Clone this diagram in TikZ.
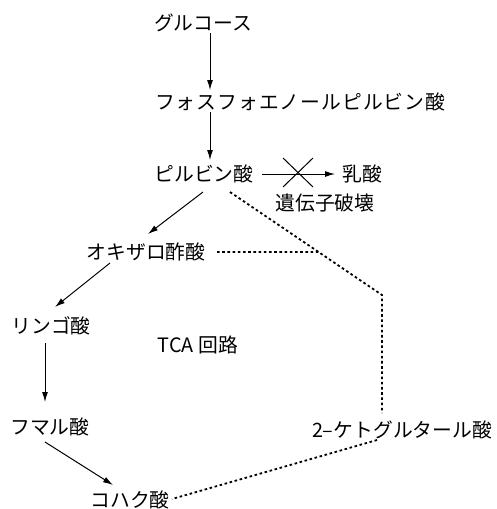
\documentclass[tikz,border=0pt]{standalone}
\usepackage{fontspec}
\setmainfont{Noto Sans CJK JP}
\usetikzlibrary{arrows.meta}
\begin{document}
\begin{tikzpicture}[x=1pt,y=-1pt,
  lbl/.style={inner sep=0pt,font=\fontsize{19.8}{22}\selectfont,anchor=center},
  arr/.style={line width=1pt,-{Latex[length=10pt,width=6pt]}},
  sol/.style={line width=1pt},
  dot/.style={line width=1.8pt,dash pattern=on 2.6pt off 2.6pt}]
\useasboundingbox (0,0) rectangle (497,509);
\node[lbl] (glc) at (203,23) {グルコース};
\node[lbl,anchor=west] (pep) at (155,102) {\addfontfeature{LetterSpace=5}フォスフォエノールピルビン酸};
\node[lbl] (pyr) at (204,174) {ピルビン酸};
\node[lbl] (lac) at (362,174) {乳酸};
\node[lbl] (gene) at (325,203) {遺伝子破壊};
\node[lbl] (oaa) at (146,252) {オキザロ酢酸};
\node[lbl] (mal) at (51,326) {リンゴ酸};
\node[lbl] (tca) at (198,345) {TCA 回路};
\node[lbl] (fum) at (50,427) {フマル酸};
\node[lbl] (suc) at (130,500) {コハク酸};
\node[lbl] (akg) at (402,430) {2–ケトグルタール酸};
% connector end points
\coordinate (g1) at (210,33); \coordinate (g2) at (210,90);
\coordinate (p1) at (210,112); \coordinate (p2) at (210,160);
\coordinate (l1) at (262,174); \coordinate (l2) at (335,174);
\coordinate (xa) at (283,158); \coordinate (xb) at (313,187);
\coordinate (xc) at (313,158); \coordinate (xd) at (283,187);
\coordinate (o1) at (203,192); \coordinate (o2) at (148,234);
\coordinate (m1) at (110,263); \coordinate (m2) at (55,307);
\coordinate (f1) at (45,343); \coordinate (f2) at (45,402);
\coordinate (s1) at (45,442); \coordinate (s2) at (113,485);
\coordinate (d1) at (230,192); \coordinate (d2) at (382,295); \coordinate (d3) at (382,413);
\coordinate (h1) at (217,252);
\coordinate (h2) at (intersection of d1--d2 and h1--{(400,252)});
\coordinate (k1) at (377,440); \coordinate (k2) at (172,499);
\draw[arr] (g1) -- (g2);
\draw[arr] (p1) -- (p2);
\draw[arr] (l1) -- (l2);
\draw[sol] (xa) -- (xb) (xc) -- (xd);
\draw[arr] (o1) -- (o2);
\draw[arr] (m1) -- (m2);
\draw[arr] (f1) -- (f2);
\draw[arr] (s1) -- (s2);
\draw[dot] (d1) -- (d2) -- (d3);
\draw[dot] (h1) -- (h2);
\draw[dot] (k1) -- (k2);
\end{tikzpicture}
\end{document}
